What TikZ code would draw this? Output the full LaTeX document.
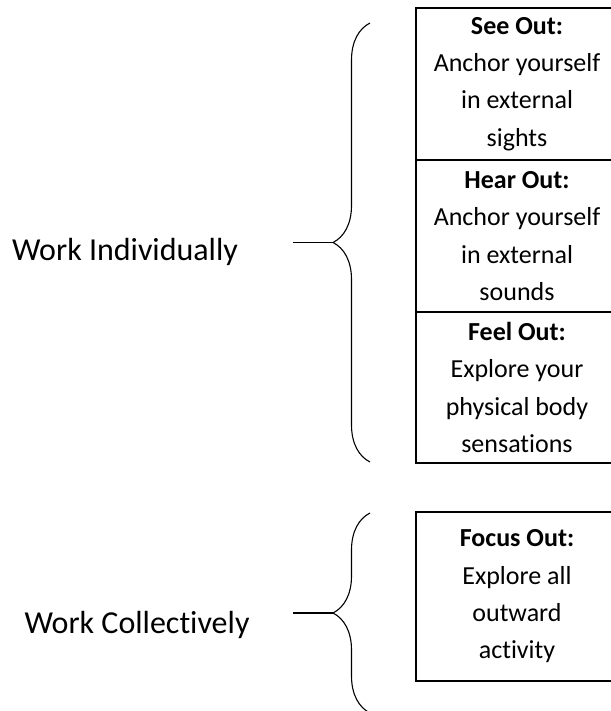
\documentclass[tikz,border=0pt]{standalone}
\usepackage{fontspec}
\setmainfont{Carlito}[Ligatures=NoCommon]
\usepackage{tikz}
\usetikzlibrary{positioning, decorations.pathreplacing}

\begin{document}
\begin{tikzpicture}[%
	x=1pt, y=-1pt,
	node distance=0pt, align=flush center,
	cell/.style={draw, line width=2pt, outer sep=0pt, inner sep=0pt, text width=202pt, minimum height=152pt, font=\fontsize{26}{37.3}\selectfont},
	group/.style={inner sep=0pt, font=\fontsize{32}{36}\selectfont},
	curly/.style={decorate, decoration={brace, amplitude=37pt}, line width=1.1pt}
	]
	\useasboundingbox (0,0) rectangle (610,711);
	
	\node[cell, anchor=north west] (see) at (416,8) {\textbf{See Out:}\\ Anchor yourself\\ in external\\ sights};
	
	\node[cell] (hear) [below=of see] {\textbf{Hear Out:}\\ Anchor yourself\\ in external\\ sounds};
	
	\node[cell, minimum height=151pt] (feel) [below=of hear] {\textbf{Feel Out:}\\ Explore your\\ physical body\\ sensations};
	
	\node[cell, anchor=north west, minimum height=169pt] (focus) at (416,512) {\textbf{Focus Out:}\\ Explore all\\ outward\\ activity};
	
	\node[group, anchor=base] (indiv) at (125,260) {Work Individually};
	
	\node[group, anchor=base] (coll) at (137,633) {Work Collectively};
	
	% braces and their stubs
	\draw[curly] (370,462) -- (370,23);
	\draw[curly] (370,713) -- (370,513);
	
	\coordinate (tipA) at (333,242.5);
	\coordinate (stubA) at (293,242.5);
	\coordinate (tipB) at (333,613);
	\coordinate (stubB) at (293,613);
	
	\draw[line width=1.1pt] (stubA) -- (tipA);
	\draw[line width=1.1pt] (stubB) -- (tipB);
\end{tikzpicture}
\end{document}
